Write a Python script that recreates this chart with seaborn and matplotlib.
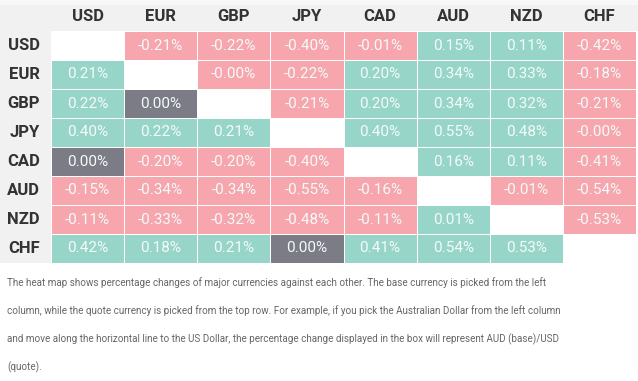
import numpy as np
import pandas as pd
import matplotlib
matplotlib.use("Agg")
import matplotlib.pyplot as plt
from matplotlib.colors import ListedColormap
from matplotlib.patches import Rectangle
import seaborn as sns

currencies = ["USD", "EUR", "GBP", "JPY", "CAD", "AUD", "NZD", "CHF"]

# row = base currency, column = quote currency, None on the diagonal
usd = [None, -0.21, -0.22, -0.40, -0.01, 0.15, 0.11, -0.42]
eur = [0.21, None, -0.00, -0.22, 0.20, 0.34, 0.33, -0.18]
gbp = [0.22, 0.00, None, -0.21, 0.20, 0.34, 0.32, -0.21]
jpy = [0.40, 0.22, 0.21, None, 0.40, 0.55, 0.48, -0.00]
cad = [0.00, -0.20, -0.20, -0.40, None, 0.16, 0.11, -0.41]
aud = [-0.15, -0.34, -0.34, -0.55, -0.16, None, -0.01, -0.54]
nzd = [-0.11, -0.33, -0.32, -0.48, -0.11, 0.01, None, -0.53]
chf = [0.42, 0.18, 0.21, 0.00, 0.41, 0.54, 0.53, None]

note_lines = [
    "The heat map shows percentage changes of major currencies against each other. The base currency is picked from the left",
    "column, while the quote currency is picked from the top row. For example, if you pick the Australian Dollar from the left column",
    "and move along the horizontal line to the US Dollar, the percentage change displayed in the box will represent AUD (base)/USD",
    "(quote).",
]

rows = [usd, eur, gbp, jpy, cad, aud, nzd, chf]
vals = np.array([[np.nan if v is None else v for v in r] for r in rows], dtype=float)

# 0 = zero (gray), 1 = up (green), 2 = down incl. -0.00 (pink)
codes = np.where(np.signbit(vals), 2, np.where(vals > 0, 1, 0)).astype(float)
codes[np.isnan(vals)] = np.nan
labels = np.array([["" if np.isnan(v) else f"{abs(v):.2f}%" for v in r] for r in vals], dtype=object)
neg = np.signbit(vals) & ~np.isnan(vals)
labels[neg] = "-" + labels[neg]

df = pd.DataFrame(codes, index=currencies, columns=currencies)

sns.set_style("white")
plt.rcParams["font.family"] = ["Roboto", "DejaVu Sans"]

W, H = 638, 381
fig = plt.figure(figsize=(W / 100, H / 100), dpi=100)
fig.patch.set_facecolor("white")

# header row and left column backgrounds (behind the axes and tick labels)
bg = dict(transform=fig.transFigure, edgecolor="none", zorder=-5)
fig.patches.append(Rectangle((0, (H - 31) / H), 1, 26 / H, facecolor="#f1f1f1", **bg))
fig.patches.append(Rectangle((0, (H - 263) / H), 51 / W, 232 / H, facecolor="#f1f1f1", **bg))
fig.patches.append(Rectangle((0, (H - 5) / H), 1, 5 / H, facecolor="#f8f8f8", **bg))

ax = fig.add_axes([51 / W, (H - 263) / H, 585 / W, 232 / H])
cmap = ListedColormap(["#7b7c86", "#97d5c8", "#f6a6ac"])
sns.heatmap(df, ax=ax, cmap=cmap, vmin=-0.5, vmax=2.5, cbar=False,
            annot=labels, fmt="", linewidths=0.7, linecolor="white",
            annot_kws={"color": "#f4fbfa", "fontsize": 11})
ax.set_facecolor("white")
ax.xaxis.tick_top()
ax.tick_params(length=0, pad=5)
ax.set_xticklabels(currencies, fontsize=12, fontweight="bold", color="#333333")
ax.set_yticklabels(currencies, fontsize=12, fontweight="bold", color="#333333", rotation=0)
ax.tick_params(axis="y", pad=8)
ax.set_xlabel("")
ax.set_ylabel("")

y0 = 283
for i, line in enumerate(note_lines):
    fig.text(7 / W, (H - y0 - i * 28) / H, line, fontsize=7.1, color="#666666",
             va="center", ha="left")

fig.savefig("out.png", dpi=100)
